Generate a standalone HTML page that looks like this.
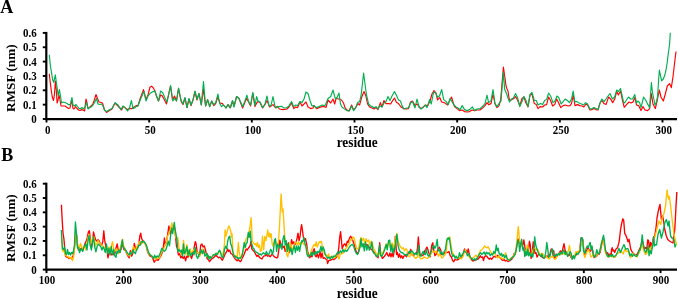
<!DOCTYPE html>
<html><head><meta charset="utf-8"><style>
html,body{margin:0;padding:0;background:#fff;width:678px;height:299px;overflow:hidden}
svg{display:block;will-change:transform;filter:blur(0.35px)}
.t{font-family:"Liberation Serif", serif;font-weight:bold;font-size:11px;fill:#000}
.ax{font-family:"Liberation Serif", serif;font-weight:bold;font-size:13.3px;fill:#000}
.big{font-family:"Liberation Serif", serif;font-weight:bold;font-size:18px;fill:#000}
</style></head><body>
<svg width="678" height="299" viewBox="0 0 678 299">
<text transform="translate(0.3,13.3)" class="big">A</text>
<text transform="translate(1.2,160.8)" class="big">B</text>
<polyline points="49.3,73.8 50.2,82.0 51.2,90.0 52.3,97.0 53.5,100.5 54.5,94.0 55.4,81.0 56.3,90.0 57.1,103.0 58.0,100.0 59.0,95.0 60.0,100.0 61.0,106.0 62.5,106.0 65.0,106.0 67.0,107.5 68.6,108.5 70.0,108.0 71.6,100.0 73.0,108.5 74.0,109.0 75.6,106.5 77.0,108.5 78.6,110.0 80.0,110.5 81.6,109.6 83.0,110.0 84.6,111.0 86.0,99.0 87.0,103.0 88.0,108.5 89.6,107.5 91.0,106.0 92.7,104.5 94.0,101.0 96.0,94.5 97.7,99.0 99.0,102.0 101.0,102.5 102.5,103.0 104.5,110.0 106.5,112.4 109.5,110.6 112.0,109.0 115.0,103.0 118.0,106.0 121.6,110.0 123.0,106.5 125.0,107.6 127.6,109.6 129.6,108.6 132.0,108.6 134.0,107.0 136.6,105.6 138.0,105.6 140.0,99.0 143.5,89.6 146.0,99.6 148.0,95.0 150.0,87.0 151.5,86.2 153.0,87.5 154.5,90.0 156.5,96.0 158.5,101.0 160.6,95.0 162.0,95.6 164.0,99.0 166.5,104.0 168.5,95.0 170.5,86.0 172.5,100.0 174.5,96.0 176.5,101.0 178.5,88.5 181.0,101.0 182.0,103.0 183.0,104.5 185.0,98.0 187.0,107.6 189.0,99.0 191.0,105.6 193.0,100.0 195.0,91.5 197.0,100.0 199.0,93.5 201.3,105.0 203.4,89.0 205.6,106.0 207.6,99.6 209.7,106.6 211.7,101.0 213.7,105.6 215.7,103.5 217.7,97.0 220.0,103.0 222.5,103.6 223.5,105.0 226.0,108.0 228.0,104.6 230.5,107.6 232.5,101.0 234.0,106.0 236.6,96.5 239.0,98.5 242.6,108.0 244.6,103.0 246.6,98.5 248.6,102.0 250.6,106.0 252.8,93.0 255.0,106.6 257.0,102.6 258.0,101.5 260.0,102.5 262.6,108.0 265.0,104.5 267.0,100.5 269.7,107.0 271.0,106.0 273.0,104.6 275.7,108.0 277.2,106.3 279.5,109.0 283.0,109.6 287.0,109.0 289.0,107.0 291.6,103.0 293.8,108.6 295.6,107.0 297.6,107.6 300.0,102.0 302.0,106.0 304.0,104.0 306.0,101.9 308.0,107.0 310.6,108.6 313.0,108.0 314.0,105.6 316.6,108.6 319.0,107.6 322.0,106.6 324.0,106.6 326.0,107.6 328.0,100.0 330.7,103.0 333.0,99.0 334.7,104.0 336.0,98.5 339.0,99.0 341.5,100.0 343.5,103.0 345.0,107.6 347.0,110.0 349.0,111.0 351.6,105.0 353.6,110.0 356.0,107.0 358.0,103.6 359.6,105.0 361.6,97.5 364.0,91.5 365.6,95.0 367.6,104.0 369.6,107.0 372.0,108.0 374.0,109.0 376.0,107.5 378.0,109.6 380.4,102.6 382.0,107.0 384.0,100.5 386.0,103.6 388.7,103.6 390.7,104.0 392.0,101.6 394.5,98.0 396.5,102.6 398.5,103.6 401.0,107.0 403.5,108.6 406.0,109.0 408.5,108.6 410.5,102.0 412.5,101.0 415.0,105.6 417.0,104.0 419.0,106.5 421.0,108.6 423.6,106.6 425.6,105.0 427.5,106.0 430.0,101.0 432.0,94.0 434.0,90.5 436.0,93.0 437.6,100.0 439.7,97.5 441.7,102.0 444.2,102.6 447.7,105.0 449.5,101.0 451.5,97.0 453.0,102.0 454.5,106.6 457.0,108.6 459.5,110.6 462.0,110.0 464.5,111.6 467.0,112.0 469.6,111.6 472.0,110.0 474.6,110.6 477.0,110.0 480.0,110.0 483.0,107.6 485.0,105.6 487.0,102.6 488.6,104.6 491.0,103.6 493.0,94.0 495.0,104.0 497.0,107.6 499.0,105.6 500.7,99.6 502.0,84.0 503.4,67.0 505.0,78.0 506.0,86.0 507.0,89.0 508.0,91.0 509.0,98.0 510.0,100.5 512.0,99.5 514.0,98.5 515.5,96.5 517.5,100.0 519.8,105.6 522.0,98.5 523.9,97.0 526.0,103.0 528.0,107.0 530.0,95.0 532.0,94.0 534.3,103.6 536.3,104.6 538.0,108.6 540.0,106.6 542.6,107.0 544.6,105.0 546.6,104.6 548.6,97.0 550.6,100.5 552.6,106.0 554.7,104.6 556.7,99.0 558.7,103.0 560.7,107.6 563.2,105.6 565.2,105.0 568.0,106.0 570.0,105.6 571.5,103.6 573.2,95.0 575.0,105.6 577.5,104.6 580.0,105.6 582.0,106.0 583.9,107.0 585.9,104.0 587.6,105.0 589.9,110.0 592.0,109.6 594.0,108.6 596.0,109.6 598.0,110.0 600.0,103.0 601.9,100.5 604.0,103.6 606.0,104.6 608.6,97.0 610.6,99.0 612.7,102.6 614.7,99.0 616.7,91.5 618.4,95.0 620.5,91.0 622.2,99.0 624.2,107.3 626.5,104.6 629.0,102.0 631.0,103.0 633.0,102.0 634.8,97.5 636.6,105.0 638.6,105.6 641.0,110.6 643.0,106.6 645.0,110.0 647.6,110.6 649.6,108.6 651.3,93.5 653.0,104.0 655.3,108.6 657.3,100.0 659.3,90.0 661.0,97.0 663.3,101.0 665.3,94.0 667.3,86.0 669.6,83.6 671.3,87.6 673.0,76.8 674.7,62.0 676.0,51.5" fill="none" stroke="#ff0000" stroke-width="1.15" stroke-linejoin="round"/>
<polyline points="49.3,54.8 50.3,65.0 51.5,72.6 52.7,80.0 53.8,82.4 55.3,74.8 56.3,82.0 57.3,89.0 58.2,96.0 59.4,89.5 60.3,95.0 61.5,103.0 63.0,102.0 65.0,102.5 67.0,103.5 69.0,105.0 70.5,104.0 72.0,97.5 73.0,105.0 74.6,106.0 76.0,104.5 77.6,106.5 79.0,108.5 80.6,108.5 82.0,107.5 83.6,109.0 85.0,107.0 86.6,102.5 88.0,109.0 89.6,107.5 91.0,107.0 93.0,105.0 94.7,102.5 96.4,98.5 98.0,104.0 99.7,104.5 101.7,104.0 103.5,107.0 104.5,110.0 106.5,111.6 109.0,110.0 112.0,108.6 115.0,102.8 118.0,105.0 121.0,109.6 123.0,105.9 125.0,107.6 127.6,111.0 129.6,107.6 131.4,100.5 133.0,108.6 134.6,108.0 136.0,106.6 138.0,106.0 140.6,99.0 144.0,91.6 146.0,101.0 148.0,96.0 150.0,93.6 153.0,91.6 155.0,91.0 156.5,96.0 158.5,101.0 160.6,91.0 162.6,92.6 165.0,98.0 167.0,102.0 170.6,85.5 172.8,101.0 174.5,98.5 176.5,101.0 178.6,88.0 181.0,100.0 183.0,104.0 185.0,97.5 187.0,107.6 189.0,98.5 191.0,105.0 193.0,100.0 195.0,91.0 197.0,99.5 199.0,93.5 201.3,105.0 203.5,81.6 205.6,106.0 207.6,99.6 209.7,106.6 211.7,101.0 213.7,104.6 215.7,102.6 218.0,94.0 219.5,103.0 221.5,106.6 223.5,105.0 226.0,108.0 228.0,104.6 230.0,108.0 232.5,100.5 234.0,107.0 236.6,96.5 239.0,98.5 242.6,106.6 244.6,102.0 246.9,95.2 248.6,101.6 250.6,105.0 252.8,92.5 255.0,105.6 256.6,96.5 258.0,101.0 260.0,102.0 262.6,107.6 265.0,104.0 267.0,96.0 269.0,106.0 271.0,105.6 273.0,96.5 275.0,106.6 276.0,107.6 279.0,106.6 281.5,106.3 284.0,108.0 286.0,108.0 288.5,106.6 291.6,101.6 293.6,106.6 295.6,105.0 297.6,105.5 300.0,101.6 302.0,102.6 304.0,99.0 306.0,92.0 308.0,93.5 310.0,100.5 312.0,106.0 314.0,105.6 316.0,107.6 319.0,106.6 322.0,105.0 325.0,105.6 328.0,98.5 330.7,96.5 333.0,90.0 334.7,96.5 335.5,99.0 337.0,97.5 339.0,93.0 340.5,104.0 342.0,107.0 344.0,108.6 346.0,110.0 348.0,111.0 349.6,110.6 351.6,106.0 353.6,110.6 355.6,108.0 357.6,102.6 359.6,101.6 361.0,96.0 362.3,85.0 363.6,73.0 365.0,84.0 366.5,95.0 368.6,104.0 370.6,106.0 372.6,106.6 374.0,108.0 376.0,106.6 378.0,109.0 380.0,105.6 382.0,107.0 384.0,103.0 386.0,101.6 388.0,96.5 390.0,100.5 392.0,96.0 394.5,91.5 396.5,95.5 398.5,100.0 400.5,101.0 402.0,105.6 404.0,109.0 406.5,108.0 408.5,108.0 410.5,103.0 412.5,101.6 415.0,108.0 417.0,99.0 419.0,107.0 421.0,109.0 423.0,107.6 425.0,105.0 427.0,107.6 429.6,99.6 431.3,104.0 433.6,92.0 435.6,93.0 437.6,97.5 439.7,95.5 441.7,89.5 443.7,99.6 446.2,101.6 448.2,104.6 450.0,98.5 452.0,101.6 454.0,105.0 456.0,107.0 458.0,108.0 460.0,109.6 462.2,105.6 464.5,109.6 467.0,110.6 469.6,109.6 472.3,106.9 474.6,110.6 477.0,109.0 480.0,108.6 483.0,106.0 485.0,103.6 487.0,95.2 488.6,102.6 491.0,100.6 493.0,89.5 495.0,103.6 497.0,106.6 499.0,103.6 501.0,101.0 502.3,85.0 503.4,72.0 504.6,89.0 506.7,94.0 508.0,98.0 509.5,102.0 511.5,99.0 513.5,98.0 515.5,93.5 517.5,97.5 519.8,106.6 522.0,101.6 524.0,96.5 526.0,100.5 528.0,106.6 530.0,94.5 532.0,92.5 534.3,100.5 536.3,100.5 538.0,105.0 540.6,103.6 542.6,104.6 544.6,100.5 546.6,99.6 548.6,93.0 550.6,96.0 553.0,102.6 555.0,101.0 557.0,96.0 558.7,97.5 561.2,104.0 563.2,101.6 565.2,99.0 567.5,100.5 569.5,102.6 571.5,99.0 573.2,91.0 574.8,101.6 577.0,101.6 579.0,103.0 581.6,104.0 583.6,105.0 585.6,102.6 587.6,104.0 589.9,109.0 592.0,108.6 594.0,107.6 596.0,108.6 598.0,109.6 600.0,103.0 601.9,99.0 604.0,101.6 606.0,99.0 608.0,96.0 610.0,93.5 612.4,99.0 614.7,97.0 616.7,90.0 618.4,91.5 620.5,88.5 622.2,96.0 623.5,102.0 624.5,103.0 626.5,100.0 628.5,97.0 630.5,99.0 632.5,99.0 634.8,94.5 636.6,103.0 638.0,101.0 639.6,102.6 641.0,107.6 643.6,97.0 645.6,100.0 647.6,104.0 649.6,107.6 651.4,82.5 652.5,92.7 654.0,100.0 655.0,105.0 656.5,102.0 657.6,96.0 658.6,80.2 659.4,70.0 660.5,75.7 661.6,80.8 663.3,79.0 665.0,74.5 666.2,68.8 667.3,62.0 668.1,55.0 669.6,44.0 670.3,32.7" fill="none" stroke="#00b050" stroke-width="1.15" stroke-linejoin="round"/>
<polyline points="61.4,204.7 62.2,220.0 63.0,233.0 64.0,239.5 64.5,246.0 65.5,256.0 66.5,257.0 68.0,257.5 69.0,258.5 70.0,257.5 71.4,258.8 73.0,256.0 74.0,252.0 75.0,242.0 75.8,232.0 76.7,236.0 77.5,246.0 78.5,250.0 80.0,249.0 81.5,248.0 83.0,250.0 84.8,244.0 86.0,241.6 87.2,238.0 88.4,232.0 89.4,230.8 90.2,238.0 91.4,247.7 92.6,241.6 93.5,232.0 94.4,235.6 95.6,239.8 96.8,241.0 98.0,239.8 99.2,241.0 100.4,244.0 101.6,245.3 102.8,241.6 103.8,230.8 104.7,240.4 105.9,247.0 107.0,250.0 108.0,257.9 108.9,253.7 110.1,253.0 111.3,254.9 112.5,253.0 113.7,254.9 114.9,253.7 116.1,247.7 117.2,244.0 118.2,250.0 119.6,252.5 121.4,247.7 122.6,242.8 123.8,249.5 125.4,250.0 126.8,253.7 128.0,256.1 129.2,257.9 130.4,250.7 131.6,256.1 132.8,253.7 134.3,243.4 135.3,247.7 136.5,250.0 137.7,247.0 138.9,244.0 139.8,236.2 140.7,233.2 141.5,238.0 142.5,240.4 143.7,241.6 144.9,243.4 146.0,245.0 146.0,245.0 147.3,250.8 148.5,253.9 149.8,255.9 151.7,256.5 153.0,259.0 154.3,262.2 155.5,260.3 156.8,259.7 158.1,260.3 159.3,258.4 160.6,256.5 161.9,253.3 163.2,248.2 164.4,238.0 165.3,245.0 166.3,242.5 167.6,234.9 168.9,226.0 170.2,234.0 171.4,229.0 172.8,226.0 174.3,226.0 175.5,236.0 176.5,246.5 177.2,248.0 178.4,254.9 179.6,253.7 180.8,257.9 182.0,256.1 183.2,258.5 184.4,256.1 185.6,260.9 186.8,256.1 188.0,257.3 189.2,254.9 190.4,255.5 191.6,258.5 192.8,253.7 194.0,248.3 195.3,241.6 196.2,244.0 197.0,251.3 198.3,253.7 199.5,256.1 200.7,245.3 201.9,244.0 203.1,247.0 204.3,245.9 205.5,250.0 206.7,256.1 207.0,258.5 208.4,259.7 209.6,261.6 210.9,259.7 212.2,258.4 213.4,257.8 214.7,256.5 216.0,255.2 217.2,256.5 218.5,257.8 219.8,257.1 221.0,258.4 222.3,260.3 223.6,257.8 224.6,255.2 225.6,253.3 226.7,251.4 227.7,248.9 228.7,251.4 229.7,250.1 230.7,253.3 231.7,254.0 232.5,254.5 233.5,256.5 234.5,257.8 235.1,259.0 236.1,259.7 237.1,260.9 238.1,259.7 239.1,260.3 240.1,261.6 241.1,260.9 242.2,257.8 243.2,256.5 244.2,254.0 245.2,251.4 246.2,248.9 247.2,250.1 248.3,248.2 249.3,247.0 250.3,245.0 251.1,241.2 251.8,248.9 252.8,250.1 253.9,251.4 254.9,252.7 255.9,254.6 256.9,256.5 257.9,255.2 258.9,256.5 259.9,257.8 261.0,258.4 262.0,259.0 263.3,256.5 263.7,256.2 265.4,255.7 266.4,254.6 267.5,256.2 269.1,255.7 270.2,256.8 271.2,255.2 272.3,254.0 273.4,255.7 274.5,256.8 275.5,257.3 276.6,257.8 277.7,257.3 278.7,250.9 279.8,240.2 280.9,244.5 281.9,245.0 283.0,247.7 284.1,246.0 285.2,251.4 286.2,249.3 287.3,246.0 288.4,242.8 289.4,252.5 290.5,247.0 291.6,239.6 292.6,243.9 293.7,241.8 294.8,245.0 295.9,242.8 297.0,238.6 298.0,233.2 299.1,240.7 300.2,235.4 301.0,228.0 301.6,224.6 302.3,229.0 303.4,237.5 304.5,239.6 305.5,238.6 306.6,243.9 307.7,251.4 308.7,255.7 309.8,257.8 310.9,255.7 312.0,256.8 313.0,251.4 314.1,248.7 315.2,255.7 316.2,256.8 317.3,253.6 318.4,257.8 319.4,254.6 320.0,251.4 321.0,257.8 322.1,253.0 323.2,258.4 324.5,257.8 325.7,259.0 326.9,259.6 327.6,263.5 328.9,260.3 330.2,260.3 331.4,259.6 332.7,259.0 334.0,259.6 335.2,258.4 336.5,257.1 337.8,255.2 338.8,247.6 339.7,237.4 340.6,231.7 341.3,238.7 342.2,248.9 343.5,245.0 344.8,243.8 346.0,246.3 347.3,241.2 348.0,242.5 349.3,238.7 350.5,236.2 351.8,238.1 353.1,241.2 354.4,245.0 355.6,250.1 356.9,252.7 358.2,253.3 359.4,247.6 360.7,241.2 362.0,244.4 363.2,245.0 364.5,243.8 365.8,245.7 367.0,244.4 368.3,246.3 369.6,247.6 370.9,248.9 372.1,250.1 373.4,251.4 374.7,252.7 375.9,254.6 376.0,256.0 378.1,257.8 379.7,242.8 380.8,254.6 382.4,258.4 384.0,256.8 385.6,254.6 386.7,252.5 387.8,255.2 388.8,256.2 389.9,253.0 391.0,256.8 392.1,253.0 393.1,256.8 394.2,251.4 395.3,236.4 395.8,242.8 396.6,254.6 397.4,252.5 398.5,257.3 399.6,254.0 400.6,257.8 401.7,255.7 402.8,258.4 403.8,256.2 405.4,255.2 406.5,256.8 407.6,252.5 409.2,253.6 410.8,249.3 411.9,254.6 413.5,255.7 415.1,253.6 416.7,253.0 417.6,247.0 418.3,237.0 419.0,245.0 419.9,254.6 422.0,255.7 423.7,254.6 424.7,250.9 425.8,249.3 426.9,247.1 428.0,249.8 429.0,253.6 430.1,256.8 431.7,245.5 432.8,242.8 433.8,250.3 434.9,255.7 436.0,254.5 437.2,251.5 438.4,248.5 439.4,247.3 440.6,249.7 441.8,254.5 443.0,253.9 444.2,253.3 445.4,252.1 446.8,252.7 448.0,252.1 449.0,251.5 450.2,255.7 451.4,256.9 452.6,260.5 453.8,261.7 455.0,259.3 456.2,259.9 457.4,259.9 458.6,259.3 459.8,257.5 461.3,258.1 462.5,255.7 463.7,252.1 464.5,249.0 465.2,251.5 466.2,250.3 467.0,253.9 468.2,249.0 469.4,254.5 470.6,258.1 471.8,259.9 473.0,261.1 474.2,260.5 475.4,259.9 476.6,258.7 477.8,259.3 479.0,258.1 480.2,255.7 481.4,257.5 482.6,256.9 483.5,260.5 484.5,256.9 485.7,255.7 486.9,256.3 488.1,258.1 489.3,259.3 490.5,258.1 491.7,259.3 492.9,257.5 494.1,256.3 495.3,256.9 495.5,257.1 496.5,256.5 497.8,255.2 499.1,257.1 500.4,257.8 501.6,259.7 502.9,260.3 504.2,259.7 505.4,261.0 506.7,260.3 508.0,261.6 509.2,260.9 510.5,260.3 511.8,259.0 513.1,257.1 514.3,253.3 515.3,254.0 516.6,247.6 517.9,238.7 518.9,241.2 520.0,243.8 521.3,245.0 522.5,246.3 523.9,240.0 524.8,246.3 525.8,255.2 527.1,254.0 528.4,251.4 529.4,241.2 530.3,245.0 531.1,258.4 532.2,252.7 533.2,241.9 534.1,246.3 535.0,253.3 536.0,252.7 537.0,257.1 538.3,254.6 539.5,254.0 540.8,255.9 542.1,257.1 543.3,257.8 544.6,257.8 545.9,256.5 547.2,255.9 548.7,257.1 550.0,254.0 551.2,248.9 552.5,250.1 553.2,256.9 553.8,250.8 554.4,258.7 555.6,256.9 556.8,255.7 558.0,254.5 559.2,253.3 560.4,250.9 561.4,252.7 562.6,249.7 564.0,243.6 565.0,249.7 566.2,253.3 567.4,255.1 568.6,255.7 569.8,253.9 571.0,257.5 572.2,258.1 573.4,256.9 574.9,255.7 576.1,255.1 577.3,252.1 578.5,252.1 579.7,250.9 580.9,238.8 582.2,238.2 583.0,240.6 583.9,252.1 585.1,255.7 586.3,251.5 587.5,247.9 588.7,249.1 589.9,251.5 590.8,250.9 592.0,247.3 593.0,252.7 594.2,257.5 595.4,256.9 596.6,256.3 597.8,253.9 599.0,254.5 600.2,252.1 601.4,246.0 602.3,241.2 603.1,239.4 604.1,243.0 605.3,250.3 606.5,253.9 607.7,252.7 608.9,256.3 610.1,253.9 611.3,254.5 611.4,250.0 612.2,247.7 613.0,251.0 613.6,250.1 614.7,252.5 616.0,249.0 617.6,247.7 619.2,241.3 620.5,230.0 621.6,223.6 622.8,218.8 623.7,220.4 624.7,233.3 625.7,234.9 626.9,238.1 628.0,241.8 629.0,239.2 629.9,244.3 630.8,249.4 631.8,251.3 633.1,253.2 634.4,254.5 635.6,255.1 636.9,254.5 638.2,252.0 639.4,249.4 640.7,246.9 642.0,240.5 643.0,243.0 644.3,249.4 645.5,247.5 646.8,249.4 647.7,239.9 648.6,240.5 649.6,250.7 650.6,242.4 651.6,245.6 652.6,241.8 653.5,237.0 653.5,237.0 654.7,236.0 656.0,228.0 657.0,218.0 658.0,212.7 659.0,208.0 660.0,204.4 661.4,219.5 662.7,216.0 663.7,222.0 664.8,229.5 666.3,236.0 667.8,239.5 669.5,241.0 671.0,242.0 673.0,243.0 674.8,229.5 676.1,204.4 676.8,192.0" fill="none" stroke="#ff0000" stroke-width="1.35" stroke-linejoin="round"/>
<polyline points="61.4,236.0 62.5,251.0 63.5,250.0 65.0,254.5 66.5,256.0 68.0,257.0 69.5,257.5 70.5,258.5 71.5,257.0 72.5,260.5 73.5,257.5 74.5,250.0 75.5,234.0 76.2,231.5 77.0,240.0 78.0,245.5 79.0,249.0 80.6,243.5 81.6,247.0 83.0,249.0 84.5,246.0 86.0,250.0 87.8,238.0 89.0,234.4 90.8,244.0 92.6,238.0 93.8,236.8 95.6,245.3 96.8,244.0 98.0,240.4 99.5,242.8 101.0,244.7 102.8,245.9 104.0,247.0 105.5,248.9 107.0,251.9 108.9,247.0 110.1,250.0 111.3,246.5 112.5,241.6 113.7,248.9 114.9,251.3 116.3,248.9 117.2,250.0 118.4,253.7 120.2,247.7 121.4,244.0 122.6,239.2 123.5,245.3 125.0,249.5 126.6,252.5 127.8,254.9 129.2,256.1 130.4,253.7 131.9,251.3 133.4,246.5 134.7,250.0 135.9,248.9 137.4,245.9 138.9,242.8 140.1,241.6 141.3,244.0 142.7,242.8 143.9,242.2 145.5,244.0 146.0,245.0 146.0,245.0 147.9,252.0 149.2,254.6 151.1,255.2 153.0,257.8 154.3,257.1 155.5,259.7 156.8,257.8 158.1,258.4 159.7,257.8 161.2,252.7 162.5,250.8 163.8,248.9 165.1,245.0 166.3,242.5 167.6,236.2 168.9,233.6 170.2,229.8 171.2,226.0 171.9,223.0 173.0,228.0 174.3,230.0 175.2,234.0 176.0,238.0 177.8,237.4 179.0,247.7 180.2,251.3 181.4,254.9 182.6,250.0 183.5,240.4 184.7,250.0 185.9,254.9 186.8,244.7 188.0,251.3 189.2,256.1 190.2,248.9 191.4,253.7 192.8,251.3 194.3,248.9 195.3,250.0 196.5,252.5 198.3,252.5 199.8,256.1 201.3,252.5 202.7,248.9 203.9,251.9 205.5,254.9 207.1,256.5 208.4,257.8 209.6,256.5 210.9,257.1 212.2,256.5 213.4,255.2 214.7,254.0 216.0,253.3 217.2,254.6 218.5,252.7 219.8,250.8 221.0,253.3 222.3,255.2 223.3,252.0 224.4,245.0 225.1,229.8 225.9,236.2 226.8,233.0 227.7,229.8 228.7,226.0 229.7,227.3 230.7,231.1 231.7,237.4 232.0,233.6 233.0,251.4 234.0,255.2 235.0,257.1 236.1,255.9 237.1,257.8 238.4,242.5 239.1,251.4 240.1,256.5 241.1,258.4 242.2,254.0 243.4,250.1 244.7,245.0 246.0,238.7 247.2,237.4 248.5,233.6 249.8,228.5 250.6,222.0 251.1,217.6 251.6,226.0 252.3,241.2 253.3,242.5 254.4,244.4 255.4,243.8 256.4,246.3 257.4,242.5 258.4,247.6 259.4,245.0 260.5,251.4 261.5,250.1 262.5,236.2 263.7,249.8 264.8,236.4 265.9,240.7 267.0,234.8 267.7,230.0 268.6,236.4 269.4,233.2 270.2,237.5 271.2,233.7 272.0,242.8 272.8,246.0 273.9,242.8 275.0,240.7 276.0,242.8 277.1,246.0 278.2,243.9 278.8,237.0 279.4,228.0 280.3,210.0 281.1,194.0 282.2,212.0 283.0,209.0 283.8,222.0 284.6,235.4 285.7,242.8 286.8,254.6 287.8,256.8 288.9,251.4 290.0,242.8 291.0,246.0 292.1,251.4 293.2,247.1 294.3,243.9 295.9,241.8 297.5,245.0 298.6,241.8 299.6,244.5 300.7,242.8 302.3,241.8 303.4,243.9 304.5,245.0 305.5,245.5 306.6,248.2 307.7,254.6 308.7,255.7 309.8,255.2 311.4,250.3 313.0,246.6 314.1,244.5 315.2,246.0 316.2,241.8 317.3,247.1 318.4,243.9 319.4,241.8 320.0,242.5 321.3,241.2 322.3,246.3 323.6,251.4 324.8,254.6 326.4,255.2 327.6,256.5 328.6,254.0 329.5,257.8 330.8,257.1 332.1,255.9 333.3,257.1 335.0,257.8 336.3,255.2 337.8,255.9 339.1,259.0 340.3,253.3 341.9,254.0 343.5,252.7 345.2,248.9 346.7,247.6 348.0,245.0 349.3,243.8 350.5,239.3 351.8,240.0 353.1,236.8 354.4,238.7 355.6,245.0 356.9,248.9 358.8,248.2 360.1,240.0 361.0,237.4 362.2,240.6 363.5,238.1 364.8,243.8 366.0,238.7 367.3,241.9 368.6,240.0 369.9,245.0 371.1,241.2 372.4,243.8 373.7,248.2 374.9,250.8 376.0,254.0 376.0,252.7 377.6,255.7 378.7,254.6 380.3,251.4 381.9,254.6 383.5,251.4 385.1,247.1 386.2,243.9 387.2,247.1 388.8,241.8 390.5,248.2 392.1,242.8 393.7,248.2 395.3,238.6 396.9,233.7 398.0,240.7 399.0,243.9 400.6,247.1 402.2,248.7 403.3,247.7 404.4,250.9 406.0,248.7 407.1,250.3 408.1,255.7 409.7,256.8 411.4,252.0 412.4,255.2 414.0,256.8 415.6,258.4 417.2,257.3 418.3,252.5 419.4,257.3 421.0,258.9 422.6,258.4 424.2,256.8 425.8,257.8 427.4,258.4 429.0,257.3 430.6,254.6 432.2,252.0 433.8,251.4 435.4,252.5 436.0,250.9 437.2,252.7 438.4,256.3 439.6,253.9 440.8,255.7 442.0,258.1 443.2,256.9 444.7,255.1 446.2,252.1 447.4,240.0 448.6,237.6 449.8,237.0 451.0,244.8 452.2,252.1 453.4,253.9 454.7,256.9 455.9,256.3 457.4,257.5 458.9,258.1 460.1,257.5 461.5,258.7 462.7,256.9 463.9,253.9 465.1,249.7 466.3,252.1 467.6,255.1 469.1,256.9 470.6,258.7 472.2,258.1 473.6,257.5 474.8,256.3 476.0,255.1 477.2,256.9 478.4,255.7 479.6,252.1 480.8,250.3 482.0,249.7 483.3,247.9 484.5,246.0 485.7,247.3 486.9,247.9 488.1,246.7 489.3,249.0 490.5,251.5 491.7,253.3 492.9,253.9 494.1,252.1 495.3,254.0 496.5,257.1 497.8,257.8 499.1,255.9 500.4,257.8 501.6,258.4 502.9,259.0 504.2,257.8 505.7,252.7 506.7,257.8 508.0,260.3 509.2,259.7 510.5,258.4 511.8,257.8 513.1,255.9 514.3,254.6 515.6,251.4 516.9,241.2 517.6,233.0 518.3,226.6 519.4,238.7 520.7,246.3 521.9,245.0 523.3,247.6 524.5,250.1 525.8,253.0 527.3,245.0 528.4,248.9 529.6,254.0 530.9,254.6 532.2,252.7 533.4,248.9 534.7,248.2 536.0,250.1 537.2,248.9 538.5,251.4 539.8,254.0 541.1,254.6 542.3,253.3 543.6,255.2 544.9,257.1 546.1,256.5 547.4,257.8 549.0,259.0 550.2,257.8 551.5,256.5 553.1,256.5 553.2,257.5 554.4,258.7 555.6,259.3 556.8,256.9 558.0,255.1 559.2,253.9 560.4,252.7 561.6,254.5 562.8,253.9 564.0,253.3 565.2,253.9 566.4,254.5 567.6,252.7 568.8,249.0 569.4,245.4 570.3,250.9 571.2,256.9 572.5,258.1 573.7,257.5 575.1,253.9 576.1,251.5 577.3,253.3 578.5,250.9 579.7,249.7 580.9,244.8 582.2,244.8 583.0,241.0 583.9,254.5 584.8,257.5 586.0,253.9 587.2,251.5 588.4,249.7 589.6,252.1 590.8,256.9 592.0,256.3 593.2,253.9 594.4,255.7 595.6,256.9 596.8,255.1 598.0,253.9 599.3,252.7 600.5,249.1 601.7,241.2 602.9,240.0 604.1,244.8 605.3,252.1 606.5,255.1 607.7,256.9 608.9,256.9 610.1,255.7 611.3,256.9 611.4,256.9 612.5,255.5 613.8,257.3 615.2,257.3 616.8,254.1 619.2,252.5 621.6,251.7 623.2,254.0 624.8,249.3 626.5,251.7 628.5,251.0 629.3,254.5 630.5,257.7 631.8,255.1 633.1,253.2 634.4,255.1 635.6,255.8 636.9,257.0 638.2,254.5 639.4,252.6 640.7,248.8 642.0,244.3 643.0,248.1 644.3,252.0 645.5,254.5 646.8,253.9 648.1,249.4 649.1,250.7 650.2,247.5 651.5,249.4 652.8,243.0 654.0,239.2 654.8,236.7 656.2,232.0 657.2,227.8 658.9,221.0 660.6,224.5 662.2,217.8 663.8,214.0 665.6,206.0 666.4,197.0 667.1,190.0 667.9,196.0 668.7,199.0 669.4,196.5 670.6,206.0 672.3,221.0 674.0,234.5 675.6,241.0 676.5,245.0" fill="none" stroke="#ffc000" stroke-width="1.35" stroke-linejoin="round"/>
<polyline points="61.4,230.0 62.0,242.0 62.5,249.0 63.5,249.5 64.5,247.0 65.5,253.5 66.5,254.5 67.5,249.5 68.5,254.5 69.5,252.5 70.5,255.0 71.5,252.5 72.5,253.5 73.5,251.0 74.5,245.0 75.4,222.0 76.5,234.0 77.5,248.0 78.5,247.5 79.6,252.5 80.6,249.0 81.6,250.0 82.6,251.5 83.6,248.0 84.6,246.5 85.6,244.0 86.0,244.0 87.0,250.0 88.2,239.2 89.0,235.6 90.2,245.3 91.4,250.0 92.6,241.6 93.5,236.8 94.7,246.5 95.9,251.9 97.1,246.5 98.3,244.0 99.5,245.3 100.7,246.5 101.9,250.0 103.1,247.0 104.2,249.0 105.3,252.5 106.5,244.0 107.7,253.7 108.9,248.3 110.1,254.9 111.3,246.5 112.5,254.9 113.7,249.5 114.9,256.1 116.0,257.3 117.0,251.3 117.8,253.0 119.0,250.0 120.2,252.5 121.4,245.3 122.3,239.8 123.2,247.0 124.4,248.3 125.6,250.0 126.8,251.9 128.0,253.7 129.2,254.9 130.4,252.5 131.6,254.3 132.8,250.0 134.0,251.9 135.3,253.7 136.5,250.0 137.7,248.3 138.9,245.3 140.1,245.3 141.3,241.6 142.5,242.2 143.7,241.0 144.9,242.8 145.9,244.4 146.0,244.4 147.3,248.2 148.5,252.0 149.8,254.6 151.1,255.5 152.4,256.5 153.6,258.4 154.6,255.2 155.9,257.8 157.2,255.9 158.4,257.0 159.7,254.6 161.0,250.8 161.9,248.2 163.2,250.5 164.4,251.4 165.7,250.0 167.0,246.3 168.2,241.2 169.5,245.7 170.4,237.4 171.7,228.5 172.7,233.6 173.7,226.0 174.3,222.5 175.2,230.0 175.9,233.6 177.0,240.4 177.8,251.3 179.0,249.5 180.2,252.0 181.4,250.0 182.6,256.1 183.5,244.0 184.4,253.7 185.6,251.3 186.8,246.5 188.0,255.5 189.2,250.0 190.4,256.1 191.6,253.7 192.8,252.5 194.0,254.9 195.3,247.7 196.5,256.1 197.7,258.5 198.9,254.9 200.0,253.7 201.3,250.0 202.5,253.7 203.7,250.0 204.9,256.1 206.1,254.9 207.3,253.7 207.5,257.5 208.1,255.2 209.1,259.0 210.1,256.5 211.1,258.4 212.3,256.5 213.4,254.6 214.7,255.2 216.0,253.3 217.2,254.6 218.5,252.0 219.5,250.1 220.6,252.7 221.6,256.5 222.6,257.8 223.6,255.2 224.6,248.9 225.6,246.3 226.7,248.9 227.7,241.2 228.7,237.4 229.7,236.2 230.7,243.8 231.7,246.3 232.7,251.4 233.5,254.5 234.5,256.5 235.2,256.0 236.1,257.8 237.1,257.1 238.1,259.0 239.1,257.8 240.1,258.4 241.1,257.1 242.2,255.2 243.2,248.9 244.2,242.5 245.2,247.6 246.2,243.8 247.2,242.5 248.3,232.4 249.3,237.4 250.3,231.1 251.1,242.5 252.1,245.0 253.1,248.2 254.1,248.9 255.1,251.4 256.2,252.0 257.2,252.7 258.2,253.3 259.2,254.6 260.2,253.9 261.2,255.2 262.2,253.9 263.3,252.7 264.3,253.6 265.4,254.6 266.4,251.4 267.5,254.0 268.6,254.6 269.6,252.5 270.7,249.3 271.8,251.4 272.3,254.6 273.4,251.4 274.5,240.2 275.5,238.6 276.6,251.4 277.7,243.9 278.7,246.0 279.8,248.2 280.9,243.9 281.9,249.3 283.0,238.6 284.1,235.4 285.2,245.0 286.2,240.7 287.3,251.4 288.4,244.0 289.4,249.3 290.0,251.4 291.0,248.2 292.1,254.6 293.2,249.3 294.3,246.0 295.4,252.5 296.4,246.0 297.5,250.3 298.6,246.0 299.6,251.4 300.7,245.0 301.8,240.7 302.8,241.8 303.9,237.5 305.0,243.9 306.0,247.1 307.1,254.6 308.2,256.8 309.2,255.2 310.3,255.7 311.4,252.5 312.5,255.7 313.6,252.0 314.6,254.6 315.7,251.4 316.8,253.6 317.8,251.4 318.9,252.5 320.0,250.1 321.0,246.3 321.9,251.4 323.2,247.0 324.1,249.5 325.1,254.0 326.4,256.5 327.6,258.4 328.9,257.1 330.2,259.0 331.4,256.5 332.7,257.8 334.0,255.9 335.2,256.5 336.5,254.0 337.8,252.0 339.1,253.3 340.3,250.8 341.6,252.7 342.9,249.5 344.1,252.0 345.4,250.1 346.7,251.4 348.0,249.5 349.2,247.3 350.2,246.0 351.2,245.0 352.4,244.4 353.7,246.3 355.0,250.8 356.3,253.3 357.5,254.6 358.8,251.4 360.1,247.0 361.0,238.7 362.0,247.0 363.2,243.8 364.3,250.8 365.5,241.9 366.8,250.1 368.1,245.0 369.3,250.1 370.6,247.6 371.9,241.9 372.8,251.4 374.0,253.3 375.3,254.6 376.0,255.7 376.0,255.7 377.6,256.8 378.7,252.0 379.7,245.0 380.5,255.7 381.9,256.2 383.0,254.0 384.0,251.4 385.1,248.2 386.2,244.5 387.2,249.8 388.6,240.7 389.7,240.2 390.8,251.4 391.8,245.0 392.9,253.0 394.0,248.2 395.0,249.0 396.0,240.0 396.9,234.3 398.0,245.0 399.0,249.3 400.1,251.4 401.2,252.5 402.3,252.5 403.3,253.5 404.4,254.6 406.0,254.6 407.0,255.7 408.1,253.6 409.2,251.4 410.3,253.0 411.4,250.9 412.4,251.4 413.5,253.0 414.6,254.6 415.6,253.0 416.7,254.6 417.8,252.5 418.6,245.5 419.3,251.4 419.9,255.7 421.0,256.2 422.0,253.6 423.1,251.4 424.2,254.0 425.2,254.6 426.3,249.3 427.4,254.6 428.5,256.2 429.5,255.7 430.6,253.0 431.7,250.3 432.8,247.1 433.8,245.5 434.9,248.2 436.0,246.0 437.2,239.4 438.2,250.9 439.4,249.7 440.6,253.9 441.8,252.0 443.0,255.1 444.2,251.5 445.4,249.7 446.6,241.2 447.4,238.2 448.3,239.0 449.2,237.6 450.2,243.6 451.4,252.1 452.6,256.3 453.8,255.1 455.0,258.1 456.2,256.3 457.4,258.7 458.6,256.9 459.5,252.7 460.7,256.9 461.9,255.1 463.1,253.3 464.3,250.9 465.3,252.0 466.4,252.5 467.4,255.7 468.6,253.9 469.8,256.3 471.0,258.1 472.2,258.7 473.4,259.9 474.6,258.7 475.8,260.5 477.0,258.1 478.2,256.3 479.4,253.9 480.6,252.7 481.8,254.5 483.0,253.3 484.2,252.1 485.4,255.1 486.6,252.1 487.8,253.9 489.0,252.7 490.2,255.7 491.4,253.9 492.6,255.1 493.8,251.5 495.0,253.3 495.2,252.5 496.3,245.0 497.2,250.8 498.1,248.2 499.1,253.3 500.4,255.2 501.4,253.3 502.3,256.5 503.5,254.6 504.8,257.8 506.1,255.2 507.3,259.0 508.6,259.7 509.9,260.3 511.2,258.4 512.4,257.1 513.7,256.5 515.0,254.6 515.9,250.8 516.9,245.0 517.9,240.0 518.8,243.0 519.7,251.4 520.7,243.8 521.7,239.3 522.7,248.9 523.3,250.5 523.9,247.6 524.8,256.5 525.8,251.4 526.8,255.2 527.7,248.9 528.6,255.9 529.6,252.7 530.6,256.5 531.7,254.0 532.7,257.1 533.7,251.4 534.7,236.8 535.7,245.0 536.7,248.2 537.8,251.4 538.8,254.0 539.8,255.2 540.8,256.5 541.8,254.0 542.8,256.5 543.9,258.4 544.9,257.1 545.9,251.4 546.8,242.5 547.7,248.9 548.7,257.1 550.0,255.9 551.2,251.4 552.3,249.0 552.5,249.1 553.0,251.5 553.8,255.7 555.0,256.3 556.2,253.9 557.4,255.7 558.6,253.3 559.8,255.1 561.0,252.1 562.2,253.9 563.4,250.9 564.0,249.7 565.2,254.5 566.4,252.1 567.6,256.3 568.8,254.5 570.0,251.5 571.2,253.3 572.2,259.3 573.4,255.7 574.4,258.7 575.5,255.1 576.7,253.3 577.9,254.5 579.1,252.7 580.3,250.9 581.1,237.6 581.8,237.6 582.6,238.8 583.6,250.9 584.8,253.3 586.0,249.1 587.2,246.0 588.4,247.3 589.6,243.6 590.2,242.4 591.1,249.7 592.0,246.0 593.2,254.5 594.4,256.9 595.6,255.7 596.8,249.7 597.8,253.3 599.0,253.9 600.2,249.1 601.4,243.6 602.6,238.8 603.5,235.2 604.3,240.0 605.3,249.1 606.5,253.9 607.7,256.3 608.9,256.9 610.1,254.5 611.3,256.3 611.4,256.0 612.5,254.5 613.5,257.0 614.1,256.5 615.7,255.7 617.3,252.5 618.9,248.5 620.5,252.5 622.4,247.7 624.0,244.5 625.7,249.3 627.3,248.5 628.0,248.8 629.0,252.0 629.9,255.8 631.2,253.9 632.4,256.4 633.7,254.0 635.0,255.8 636.2,256.4 637.5,255.2 638.8,251.3 640.0,250.0 641.3,244.3 642.2,234.8 643.2,244.3 644.5,250.0 645.8,252.6 647.1,249.4 648.1,245.6 649.1,255.8 650.2,250.7 651.3,253.9 652.4,245.6 652.5,248.0 653.8,237.0 654.5,246.0 655.5,244.5 656.5,245.0 658.0,234.5 659.7,229.5 661.4,238.0 663.0,232.0 664.8,222.8 666.4,219.5 668.1,226.0 669.0,221.0 670.6,236.0 672.4,238.5 674.0,239.5 675.0,247.0 676.0,244.5" fill="none" stroke="#00b050" stroke-width="1.35" stroke-linejoin="round"/>
<line x1="46.3" y1="31.900000000000006" x2="46.3" y2="120.0" stroke="#000" stroke-width="2.2"/>
<line x1="45.3" y1="119.1" x2="677.0" y2="119.1" stroke="#000" stroke-width="2.3"/>
<line x1="42.8" y1="119.00" x2="46.3" y2="119.00" stroke="#000" stroke-width="1.9"/>
<text transform="translate(36.699999999999996,123.00) scale(1,1.17)" text-anchor="end" class="t">0</text>
<line x1="42.8" y1="104.65" x2="46.3" y2="104.65" stroke="#000" stroke-width="1.9"/>
<text transform="translate(36.699999999999996,108.65) scale(1,1.17)" text-anchor="end" class="t">0.1</text>
<line x1="42.8" y1="90.30" x2="46.3" y2="90.30" stroke="#000" stroke-width="1.9"/>
<text transform="translate(36.699999999999996,94.30) scale(1,1.17)" text-anchor="end" class="t">0.2</text>
<line x1="42.8" y1="75.95" x2="46.3" y2="75.95" stroke="#000" stroke-width="1.9"/>
<text transform="translate(36.699999999999996,79.95) scale(1,1.17)" text-anchor="end" class="t">0.3</text>
<line x1="42.8" y1="61.60" x2="46.3" y2="61.60" stroke="#000" stroke-width="1.9"/>
<text transform="translate(36.699999999999996,65.60) scale(1,1.17)" text-anchor="end" class="t">0.4</text>
<line x1="42.8" y1="47.25" x2="46.3" y2="47.25" stroke="#000" stroke-width="1.9"/>
<text transform="translate(36.699999999999996,51.25) scale(1,1.17)" text-anchor="end" class="t">0.5</text>
<line x1="42.8" y1="32.90" x2="46.3" y2="32.90" stroke="#000" stroke-width="1.9"/>
<text transform="translate(36.699999999999996,36.90) scale(1,1.17)" text-anchor="end" class="t">0.6</text>
<line x1="46.50" y1="119.0" x2="46.50" y2="122.5" stroke="#000" stroke-width="1.9"/>
<text transform="translate(47.70,133.60) scale(1,1.17)" text-anchor="middle" class="t">0</text>
<line x1="149.17" y1="119.0" x2="149.17" y2="122.5" stroke="#000" stroke-width="1.9"/>
<text transform="translate(150.37,133.60) scale(1,1.17)" text-anchor="middle" class="t">50</text>
<line x1="251.83" y1="119.0" x2="251.83" y2="122.5" stroke="#000" stroke-width="1.9"/>
<text transform="translate(253.03,133.60) scale(1,1.17)" text-anchor="middle" class="t">100</text>
<line x1="354.50" y1="119.0" x2="354.50" y2="122.5" stroke="#000" stroke-width="1.9"/>
<text transform="translate(355.69,133.60) scale(1,1.17)" text-anchor="middle" class="t">150</text>
<line x1="457.16" y1="119.0" x2="457.16" y2="122.5" stroke="#000" stroke-width="1.9"/>
<text transform="translate(458.36,133.60) scale(1,1.17)" text-anchor="middle" class="t">200</text>
<line x1="559.83" y1="119.0" x2="559.83" y2="122.5" stroke="#000" stroke-width="1.9"/>
<text transform="translate(561.03,133.60) scale(1,1.17)" text-anchor="middle" class="t">250</text>
<line x1="662.49" y1="119.0" x2="662.49" y2="122.5" stroke="#000" stroke-width="1.9"/>
<text transform="translate(663.69,133.60) scale(1,1.17)" text-anchor="middle" class="t">300</text>
<line x1="46.3" y1="182.68" x2="46.3" y2="270.6" stroke="#000" stroke-width="2.2"/>
<line x1="45.3" y1="269.70000000000005" x2="677.0" y2="269.70000000000005" stroke="#000" stroke-width="2.3"/>
<line x1="42.8" y1="269.60" x2="46.3" y2="269.60" stroke="#000" stroke-width="1.9"/>
<text transform="translate(36.699999999999996,273.60) scale(1,1.17)" text-anchor="end" class="t">0</text>
<line x1="42.8" y1="255.28" x2="46.3" y2="255.28" stroke="#000" stroke-width="1.9"/>
<text transform="translate(36.699999999999996,259.28) scale(1,1.17)" text-anchor="end" class="t">0.1</text>
<line x1="42.8" y1="240.96" x2="46.3" y2="240.96" stroke="#000" stroke-width="1.9"/>
<text transform="translate(36.699999999999996,244.96) scale(1,1.17)" text-anchor="end" class="t">0.2</text>
<line x1="42.8" y1="226.64" x2="46.3" y2="226.64" stroke="#000" stroke-width="1.9"/>
<text transform="translate(36.699999999999996,230.64) scale(1,1.17)" text-anchor="end" class="t">0.3</text>
<line x1="42.8" y1="212.32" x2="46.3" y2="212.32" stroke="#000" stroke-width="1.9"/>
<text transform="translate(36.699999999999996,216.32) scale(1,1.17)" text-anchor="end" class="t">0.4</text>
<line x1="42.8" y1="198.00" x2="46.3" y2="198.00" stroke="#000" stroke-width="1.9"/>
<text transform="translate(36.699999999999996,202.00) scale(1,1.17)" text-anchor="end" class="t">0.5</text>
<line x1="42.8" y1="183.68" x2="46.3" y2="183.68" stroke="#000" stroke-width="1.9"/>
<text transform="translate(36.699999999999996,187.68) scale(1,1.17)" text-anchor="end" class="t">0.6</text>
<line x1="46.50" y1="269.6" x2="46.50" y2="273.1" stroke="#000" stroke-width="1.9"/>
<text transform="translate(47.00,283.70) scale(1,1.17)" text-anchor="middle" class="t">100</text>
<line x1="123.26" y1="269.6" x2="123.26" y2="273.1" stroke="#000" stroke-width="1.9"/>
<text transform="translate(123.76,283.70) scale(1,1.17)" text-anchor="middle" class="t">200</text>
<line x1="200.02" y1="269.6" x2="200.02" y2="273.1" stroke="#000" stroke-width="1.9"/>
<text transform="translate(200.52,283.70) scale(1,1.17)" text-anchor="middle" class="t">300</text>
<line x1="276.78" y1="269.6" x2="276.78" y2="273.1" stroke="#000" stroke-width="1.9"/>
<text transform="translate(277.28,283.70) scale(1,1.17)" text-anchor="middle" class="t">400</text>
<line x1="353.54" y1="269.6" x2="353.54" y2="273.1" stroke="#000" stroke-width="1.9"/>
<text transform="translate(354.04,283.70) scale(1,1.17)" text-anchor="middle" class="t">500</text>
<line x1="430.30" y1="269.6" x2="430.30" y2="273.1" stroke="#000" stroke-width="1.9"/>
<text transform="translate(430.80,283.70) scale(1,1.17)" text-anchor="middle" class="t">600</text>
<line x1="507.06" y1="269.6" x2="507.06" y2="273.1" stroke="#000" stroke-width="1.9"/>
<text transform="translate(507.56,283.70) scale(1,1.17)" text-anchor="middle" class="t">700</text>
<line x1="583.82" y1="269.6" x2="583.82" y2="273.1" stroke="#000" stroke-width="1.9"/>
<text transform="translate(584.32,283.70) scale(1,1.17)" text-anchor="middle" class="t">800</text>
<line x1="660.58" y1="269.6" x2="660.58" y2="273.1" stroke="#000" stroke-width="1.9"/>
<text transform="translate(661.08,283.70) scale(1,1.17)" text-anchor="middle" class="t">900</text>
<text transform="translate(357.2,147.1) scale(1,1.1)" text-anchor="middle" class="ax">residue</text>
<text transform="translate(357.2,297.7) scale(1,1.1)" text-anchor="middle" class="ax">residue</text>
<text transform="translate(14.8,78.2) rotate(-90)" text-anchor="middle" class="ax">RMSF (nm)</text>
<text transform="translate(14.8,228.2) rotate(-90)" text-anchor="middle" class="ax">RMSF (nm)</text>
</svg></body></html>
